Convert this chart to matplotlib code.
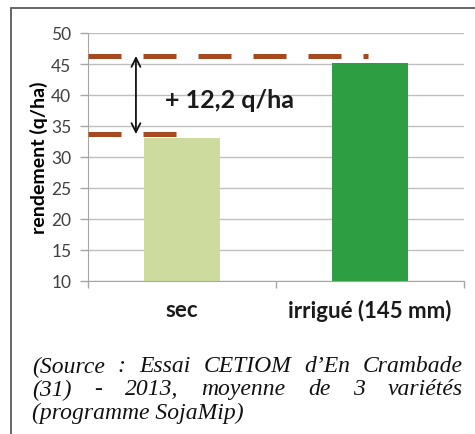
import matplotlib
matplotlib.use('Agg')
import matplotlib.pyplot as plt
from matplotlib.patches import Rectangle

categories = ["sec", "irrigué (145 mm)"]
rendement = [33.0, 45.2]
bar_colors = ["#cedb9e", "#2e9e42"]
# niveaux des lignes pointillees et de l'ecart
niveau_haut = 46.3
niveau_bas = 33.7
ecart_label = "+ 12,2 q/ha"
yticks = [10, 15, 20, 25, 30, 35, 40, 45, 50]
caption_lines = [
    "(Source : Essai CETIOM d’En Crambade",
    "(31) - 2013, moyenne de 3 variétés",
    "(programme SojaMip)",
]

sans = ['Lato', 'DejaVu Sans']
plt.rcParams['font.family'] = sans

fig = plt.figure(figsize=(4.75, 4.35), dpi=100)

# cadre gris autour de la figure
fig.patches.append(Rectangle((11 / 475, -0.1), 1.2, 1 - 9 / 435 + 0.1,
                             transform=fig.transFigure, fill=False,
                             edgecolor='#5a5a5a', linewidth=1.3))

ax = fig.add_axes([88 / 475, 1 - 282 / 435, (464 - 88) / 475, (282 - 34) / 435])
x = list(range(len(categories)))
ax.bar(x, rendement, width=0.40, color=bar_colors, zorder=2)

ax.set_xlim(-0.5, 1.5)
ax.set_ylim(10, 50)
ax.set_yticks(yticks)
ax.yaxis.grid(True, color='#bfbfbf', linewidth=1, zorder=0)
ax.set_axisbelow(True)
for s in ['top', 'right']:
    ax.spines[s].set_visible(False)
ax.spines['left'].set_color('#a6a6a6')
ax.spines['bottom'].set_color('#a6a6a6')
ax.tick_params(axis='y', colors='#a6a6a6', labelsize=12.5, length=6, width=1, pad=6)
for lab in ax.get_yticklabels():
    lab.set_color('#404040')

# ticks de l'axe x aux limites de categories
ax.set_xticks([-0.5, 0.5, 1.5])
ax.set_xticklabels([])
ax.set_xticks(x, minor=True)
ax.set_xticklabels(categories, minor=True, fontweight='bold', fontsize=16, color='#1a1a1a')
ax.tick_params(axis='x', which='major', length=5, width=1, colors='#a6a6a6')
ax.tick_params(axis='x', which='minor', length=0, pad=13)

ax.set_ylabel("rendement (q/ha)", fontweight='bold', fontsize=14, labelpad=2)

# lignes pointillees
dash_kw = dict(color='#a6491e', linewidth=3.6, linestyle=(0, (6.6, 4.4)),
               solid_capstyle='butt', dash_capstyle='butt', zorder=3)
ax.plot([-0.5, 0.99], [niveau_haut, niveau_haut], **dash_kw)
ax.plot([-0.5, 0.05], [niveau_bas, niveau_bas], **dash_kw)

ax.annotate("", xy=(-0.245, niveau_haut), xytext=(-0.245, niveau_bas),
            arrowprops=dict(arrowstyle='<->', color='#111111', lw=1.3,
                            mutation_scale=16, shrinkA=0, shrinkB=0), zorder=4)
ax.text(-0.09, 39.2, ecart_label, fontsize=18, fontweight='bold',
        va='center', ha='left', color='#1a1a1a', zorder=4)

# legende en italique, justifiee
x0, x1 = 32, 463
ys = [367, 390, 413]
fig.canvas.draw()
renderer = fig.canvas.get_renderer()
for i, line in enumerate(caption_lines):
    yy = 1 - ys[i] / 435
    words = line.split(" ")
    tkw = dict(family=['Liberation Serif', 'DejaVu Serif'], style='italic',
               fontsize=17, va='center', ha='left', color='#111111')
    if i == len(caption_lines) - 1:
        fig.text(x0 / 475, yy, line, **tkw)
        continue
    objs = [fig.text(0, yy, w, **tkw) for w in words]
    widths = [o.get_window_extent(renderer).width for o in objs]
    gap = (x1 - x0 - sum(widths)) / (len(words) - 1)
    pos = x0
    for o, w in zip(objs, widths):
        o.set_x(pos / 475)
        pos += w + gap

fig.savefig("out.png", dpi=100)
